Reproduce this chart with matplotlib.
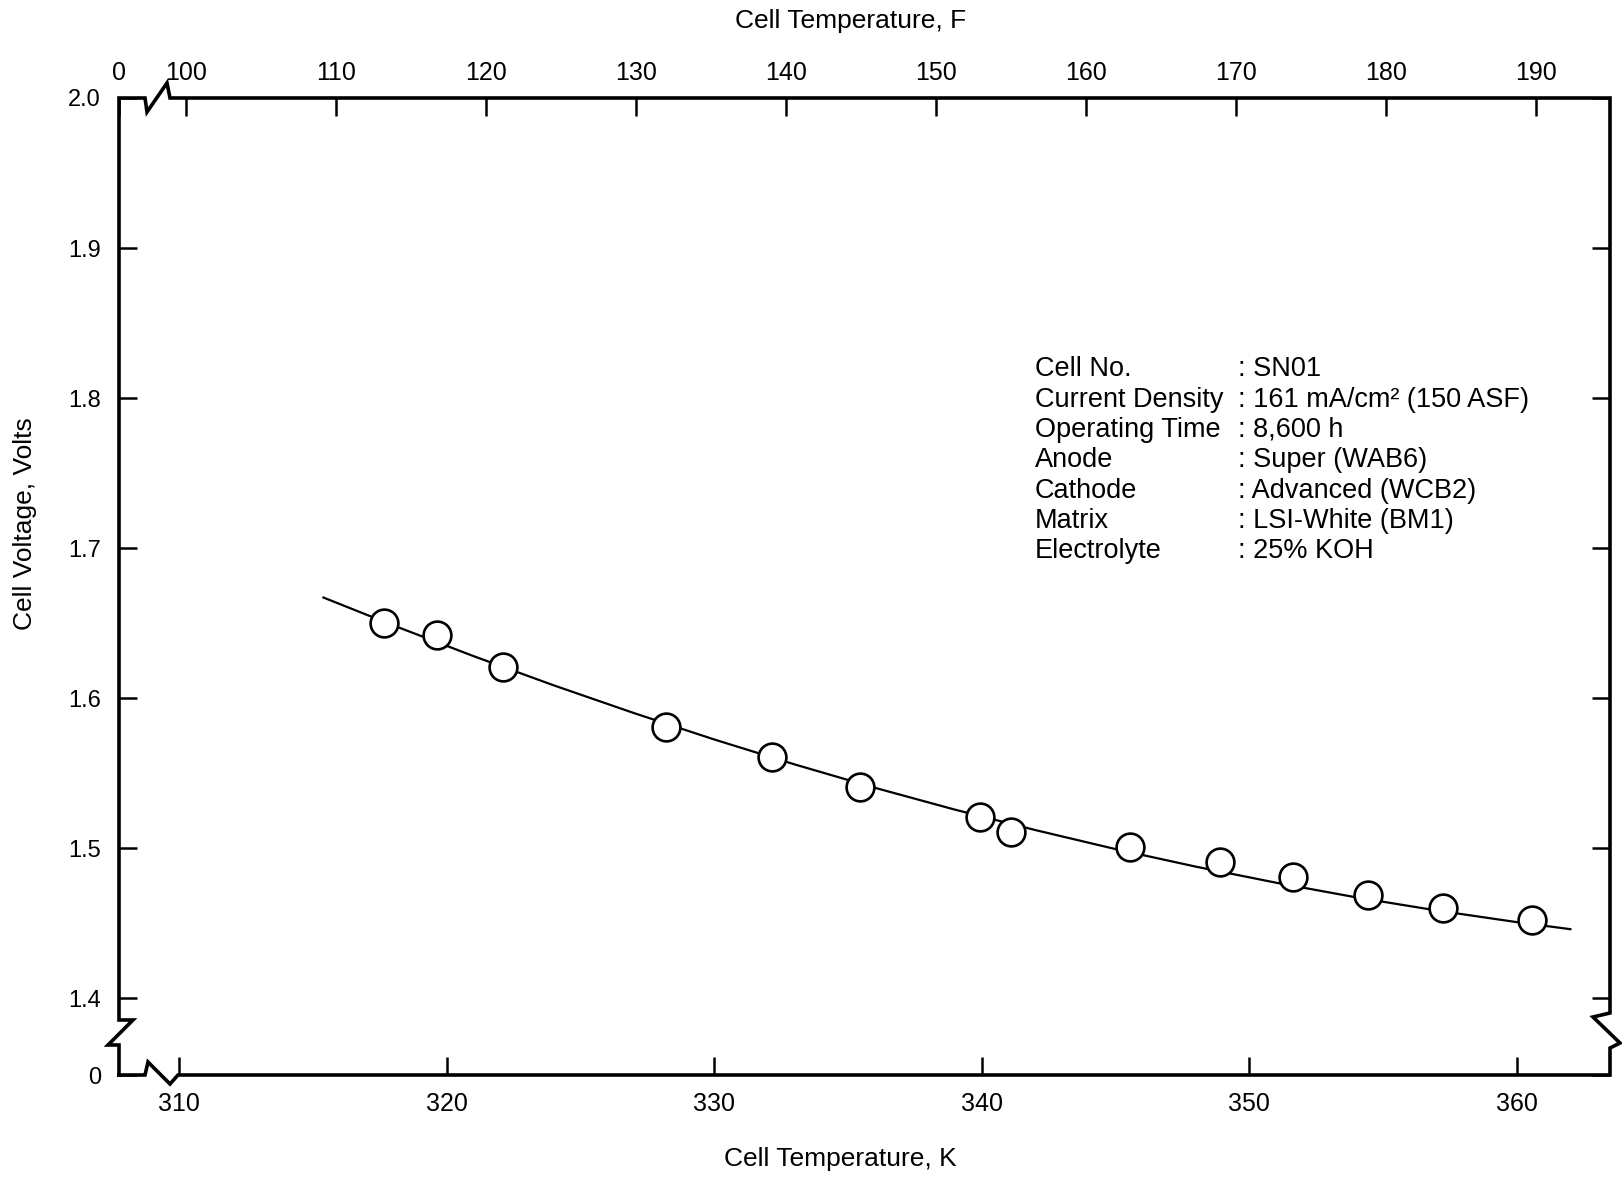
import matplotlib
matplotlib.use("Agg")
import matplotlib.pyplot as plt

plt.rcParams['font.family'] = ['Liberation Sans', 'DejaVu Sans']

# measured points (cell temperature in K, cell voltage in V)
temp_k = [317.65, 319.66, 322.10, 328.21, 332.15, 335.47, 339.95, 341.08,
          345.56, 348.89, 351.63, 354.45, 357.23, 360.56]
volts = [1.650, 1.642, 1.621, 1.581, 1.561, 1.541, 1.521, 1.511,
         1.501, 1.491, 1.481, 1.469, 1.460, 1.452]

# hand drawn fit line
fit_k = [315.4, 318, 321, 324, 327, 330, 333, 336, 339, 342, 345, 348, 351,
         354, 357, 360, 362]
fit_v = [1.667, 1.6485, 1.628, 1.6085, 1.590, 1.5724, 1.5558, 1.5402, 1.5256,
         1.512, 1.4993, 1.4876, 1.4769, 1.4671, 1.4584, 1.4506, 1.4459]

k_ticks = [310, 320, 330, 340, 350, 360]
f_ticks = [100, 110, 120, 130, 140, 150, 160, 170, 180, 190]
v_ticks = [1.4, 1.5, 1.6, 1.7, 1.8, 1.9, 2.0]

info_labels = ["Cell No.", "Current Density", "Operating Time", "Anode",
               "Cathode", "Matrix", "Electrolyte"]
info_values = [": SN01", ": 161 mA/cm\u00b2 (150 ASF)", ": 8,600 h",
               ": Super (WAB6)", ": Advanced (WCB2)", ": LSI-White (BM1)",
               ": 25% KOH"]

W, H = 1622, 1180
L, R, T, B = 119, 1610, 98, 1075   # frame in pixels
x_lo, x_hi = 307.76, 363.48
y_lo, y_hi = 1.3487, 2.0


def k2f(k):
    return 100 + (k - 310.26) / 0.5606


def f2k(f):
    return 310.26 + (f - 100) * 0.5606


def px(x, y):
    return (x - L) / (R - L), (B - y) / (B - T)


fig = plt.figure(figsize=(W / 100, H / 100), dpi=100)
ax = fig.add_axes([L / W, 1 - B / H, (R - L) / W, (B - T) / H])
ax.set_xlim(x_lo, x_hi)
ax.set_ylim(y_lo, y_hi)
for s in ax.spines.values():
    s.set_visible(False)

ax.plot(fit_k, fit_v, color='black', lw=1.6, zorder=2)
ax.plot(temp_k, volts, 'o', ms=20, mfc='white', mec='black', mew=1.9, zorder=3)

ax.set_xticks(k_ticks)
ax.set_yticks([y_lo] + v_ticks)
ax.set_yticklabels(['0'] + ['%.1f' % v for v in v_ticks])
ax.tick_params(axis='x', direction='in', length=13, width=1.8, labelsize=18, pad=12)
ax.tick_params(axis='y', direction='in', length=13, width=1.8, labelsize=17, pad=13,
               right=True)

sec = ax.secondary_xaxis('top', functions=(k2f, f2k))
sec.spines['top'].set_visible(False)
sec.set_xticks([k2f(x_lo)] + f_ticks)
sec.set_xticklabels(['0'] + [str(f) for f in f_ticks])
sec.tick_params(direction='in', length=13, width=1.8, labelsize=18, pad=9)

# frame with axis breaks
frame = [(L, B), (145, B), (148, 1062), (170, 1084), (178, B), (R, B),
         (R, 1048), (1620, 1043), (1593, 1017), (R, 1013), (R, T),
         (170, T), (167, 83), (147, 112), (145, T), (L, T),
         (L, 1020), (133, 1020), (108, 1045), (L, 1045), (L, B)]
fx, fy = zip(*[px(x, y) for x, y in frame])
ax.plot(fx, fy, color='black', lw=2.6, transform=ax.transAxes, clip_on=False,
        solid_joinstyle='miter', zorder=4)

for i, (lab, val) in enumerate(zip(info_labels, info_values)):
    yc = 369.3 + 30.3 * i
    ax.text(*px(1035, yc), lab, transform=ax.transAxes, fontsize=19.5,
            ha='left', va='center')
    ax.text(*px(1238, yc), val, transform=ax.transAxes, fontsize=19.5,
            ha='left', va='center')

fig.text(851 / W, 1 - 21 / H, "Cell Temperature, F", fontsize=19,
         ha='center', va='center')
fig.text(840 / W, 1 - 1159 / H, "Cell Temperature, K", fontsize=19,
         ha='center', va='center')
fig.text(25 / W, 1 - 524 / H, "Cell Voltage, Volts", fontsize=19,
         ha='center', va='center', rotation=90)

fig.savefig("out.png", dpi=100)
